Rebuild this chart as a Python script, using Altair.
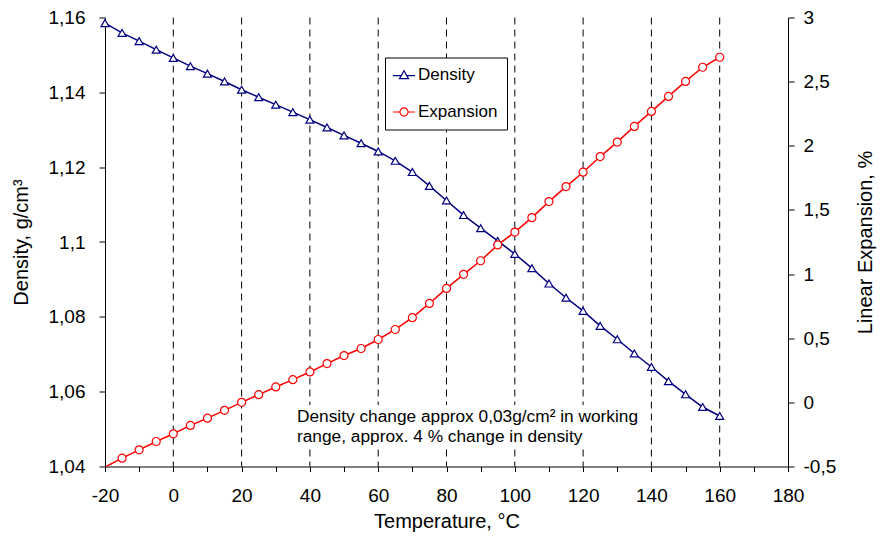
import altair as alt
import pandas as pd

# ---------------- data ----------------
temps = [-20, -15, -10, -5, 0, 5, 10, 15, 20, 25, 30, 35, 40, 45, 50, 55, 60, 65,
         70, 75, 80, 85, 90, 95, 100, 105, 110, 115, 120, 125, 130, 135, 140, 145,
         150, 155, 160]
density = [1.1585, 1.1559, 1.1537, 1.1514, 1.1492, 1.1470, 1.1450, 1.1429, 1.1407,
           1.1387, 1.1367, 1.1347, 1.1327, 1.1306, 1.1285, 1.1264, 1.1242, 1.1217,
           1.1187, 1.1150, 1.1111, 1.1072, 1.1037, 1.1003, 1.0968, 1.0930, 1.0889,
           1.0851, 1.0816, 1.0776, 1.0740, 1.0702, 1.0666, 1.0628, 1.0593, 1.0559,
           1.0535]
expansion = [-0.505, -0.435, -0.370, -0.305, -0.245, -0.180, -0.123, -0.062, 0.000,
             0.060, 0.120, 0.177, 0.237, 0.302, 0.365, 0.420, 0.490, 0.568, 0.660,
             0.771, 0.888, 0.998, 1.104, 1.227, 1.327, 1.440, 1.565, 1.682, 1.794,
             1.916, 2.029, 2.151, 2.268, 2.385, 2.502, 2.612, 2.690]
series_names = ["Density", "Expansion"]
x_ticks = [-20, -10, 0, 10, 20, 30, 40, 50, 60, 70, 80, 90, 100, 110, 120, 130, 140,
           150, 160, 170, 180]
grid_temps = [0, 20, 40, 60, 80, 100, 120, 140, 160]
density_ticks = [1.04, 1.06, 1.08, 1.1, 1.12, 1.14, 1.16]
expansion_ticks = [-0.5, 0, 0.5, 1, 1.5, 2, 2.5, 3]
note_lines = ["Density change approx 0,03g/cm\u00b2 in working",
              "range, approx. 4 % change in density"]

# ---------------- style ----------------
FONT = "Liberation Sans"
NAVY = "#000080"
RED = "#ff0000"
W, H = 683, 449

df = pd.DataFrame({"temp": temps, "density": density, "expansion": expansion})

x_scale = alt.Scale(domain=[-20, 180], nice=False, zero=False)
x_axis = alt.Axis(values=x_ticks,
                  labelExpr="datum.value % 20 == 0 ? toString(datum.value) : ''",
                  tickSize=5, labelPadding=15, titlePadding=6,
                  labelOverlap=False, labelFlush=False, labelBound=False)
X_TITLE = "Temperature, \u00b0C"
x_enc = alt.X("temp:Q", scale=x_scale, title=X_TITLE, axis=x_axis)

dens_y = alt.Y(
    "density:Q",
    scale=alt.Scale(domain=[1.04, 1.16], nice=False, zero=False),
    title="Density, g/cm\u00b3",
    axis=alt.Axis(orient="left", values=density_ticks,
                  labelExpr="replace(toString(datum.value), '.', ',')",
                  tickSize=6, labelPadding=14, titlePadding=17),
)
exp_y = alt.Y(
    "expansion:Q",
    scale=alt.Scale(domain=[-0.5, 3], nice=False, zero=False),
    title="Linear Expansion, %",
    axis=alt.Axis(orient="right", values=expansion_ticks,
                  labelExpr="replace(toString(datum.value), '.', ',')",
                  tickSize=6, labelPadding=9, titlePadding=20,
                  titleAngle=270, titleBaseline="top"),
)

base = alt.Chart(df)

grid = alt.Chart(pd.DataFrame({"temp": grid_temps})).mark_rule(
    color="#000000", strokeDash=[7, 5], strokeWidth=1
).encode(x=x_enc, y=alt.value(0), y2=alt.value(H))

note_df = pd.DataFrame({"note": ["\n".join(note_lines)]})
# white background of the note: a wide rectangular symbol (355 x 43.5 px)
box_path = "M-1,-0.1225H1V0.1225H-1Z"
note_box = alt.Chart(note_df).mark_point(
    shape=box_path, filled=True, fill="#ffffff", strokeWidth=0, opacity=1,
    size=126025
).encode(x=alt.value(364.5), y=alt.value(409.25))
note_text = alt.Chart(note_df).mark_text(
    align="left", baseline="top", lineBreak="\n", lineHeight=20,
    fontSize=17.3, font=FONT, color="black"
).encode(x=alt.value(192), y=alt.value(390.5), text="note:N")

dens_line = base.mark_line(color=NAVY, strokeWidth=1.5).encode(x=x_enc, y=dens_y)
dens_pts = base.mark_point(
    shape="triangle-up", filled=True, fill="white", stroke=NAVY,
    strokeWidth=1.2, size=64, opacity=1
).encode(x=x_enc, y=dens_y)
dens = alt.layer(dens_line, dens_pts)

exp_line = base.mark_line(color=RED, strokeWidth=1.5, clip=True).encode(x=x_enc, y=exp_y)
exp_pts = base.transform_filter("datum.expansion >= -0.5").mark_point(
    shape="circle", filled=True, fill="white", stroke=RED,
    strokeWidth=1.2, size=64, opacity=1
).encode(x=x_enc, y=exp_y)
expn = alt.layer(exp_line, exp_pts)

tri_path = "M-2.45,0.15H-0.63M0.63,0.15H2.45M0,-0.95L1,0.8H-1Z"
circ_path = ("M-2.45,0H-0.9M0.9,0H2.45M0.9,0A0.9,0.9,0,1,1,-0.9,0"
             "A0.9,0.9,0,1,1,0.9,0Z")

leg = alt.Legend(
    title=None, orient="none", legendX=280, legendY=40, direction="vertical",
    symbolSize=81, symbolOffset=1.5, labelOffset=5.5, symbolStrokeWidth=1.2,
    symbolFillColor="white", labelFontSize=17, labelFont=FONT, labelColor="black",
    padding=9, rowPadding=19, strokeColor="black", fillColor="white",
)
legend_layer = alt.Chart(pd.DataFrame({"series": series_names})).transform_filter(
    "false"
).mark_point(filled=True, fill="white", strokeWidth=1.2, opacity=1).encode(
    stroke=alt.Stroke("series:N",
                      scale=alt.Scale(domain=series_names, range=[NAVY, RED]),
                      legend=leg),
    shape=alt.Shape("series:N",
                    scale=alt.Scale(domain=series_names, range=[tri_path, circ_path]),
                    legend=leg),
)

chart = alt.layer(
    grid, note_box, note_text, dens, expn, legend_layer
).resolve_scale(y="independent").properties(
    width=W, height=H,
    autosize=alt.AutoSizeParams(type="none"),
    padding={"left": 97, "top": 9.5, "right": 90, "bottom": 70},
).configure_view(
    fill="#d3d3d3", strokeWidth=0
).configure_axis(
    grid=False, domainColor="black", domainWidth=1, tickColor="black", tickWidth=1,
    labelFont=FONT, labelFontSize=19, labelColor="black",
    titleFont=FONT, titleFontSize=20, titleFontWeight="normal", titleColor="black",
)

chart.save("out.html", embed_options={"renderer": "svg", "actions": False})
